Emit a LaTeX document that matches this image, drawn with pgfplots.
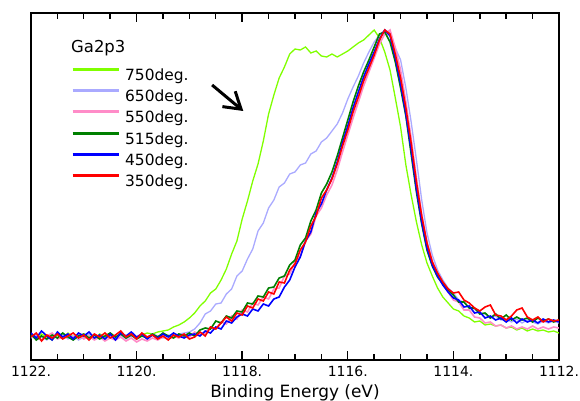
\documentclass[border=0pt]{standalone}
\usepackage{fontspec}
\setmainfont{DejaVu Sans}
\usepackage{pgfplots}
\pgfplotsset{compat=1.18}
\usepackage{pgfplotstable}
\usetikzlibrary{arrows.meta}

\definecolor{c750}{RGB}{128,255,0}
\definecolor{c650}{RGB}{170,170,255}
\definecolor{c550}{RGB}{255,140,200}
\definecolor{c515}{RGB}{0,128,0}
\definecolor{c450}{RGB}{0,0,255}
\definecolor{c350}{RGB}{255,0,0}

% columns: a=750, b=650, c=550, d=515, e=450, f=350 (intensity, arb. units)
\pgfplotstableread{
x a b c d e f
1122.0 24 22 25 26 27 23
1121.9 21 25 22 20 22 27
1121.8 26 23 20 24 29 19
1121.7 23 20 24 21 24 25
1121.6 20 24 27 25 20 22
1121.5 25 22 21 22 28 26
1121.4 22 26 23 27 23 21
1121.3 27 21 26 23 26 24
1121.2 23 24 22 20 21 27
1121.1 25 20 25 24 27 22
1121.0 22 23 21 26 24 25
1120.9 24 26 24 22 28 20
1120.8 21 22 20 25 22 26
1120.7 26 25 23 21 25 23
1120.6 23 21 19 24 21 27
1120.5 25 24 22 27 26 22
1120.4 22 22 20 23 20 25
1120.3 27 25 23 26 27 29
1120.2 24 21 19 22 24 23
1120.1 26 24 22 25 28 26
1120.0 23 22 18 21 23 21
1119.9 25 25 21 24 26 27
1119.8 27 23 19 22 21 23
1119.7 26 26 22 26 25 25
1119.6 28 24 20 23 22 21
1119.5 29 22 23 27 26 24
1119.4 30 25 21 24 23 20
1119.3 33 24 24 22 27 25
1119.2 35 26 22 26 24 23
1119.1 38 27 25 24 22 26
1119.0 42 28 23 27 25 21
1118.9 47 31 28 24 26 23
1118.8 54 37 25 30 24 28
1118.7 59 46 27 32 29 24
1118.6 67 49 33 31 27 33
1118.5 71 56 31 39 33 31
1118.4 80 57 38 37 31 37
1118.3 91 66 36 44 39 43
1118.2 106 71 44 42 37 39
1118.1 119 84 41 49 43 47
1118.0 141 89 50 48 46 45
1117.9 159 101 48 57 44 54
1117.8 179 111 57 56 51 52
1117.7 196 129 55 64 49 61
1117.6 219 137 63 63 56 59
1117.5 246 152 61 72 54 68
1117.4 265 160 71 73 61 66
1117.3 282 173 72 82 63 78
1117.2 293 177 84 84 73 77
1117.1 306 186 86 95 80 90
1117.0 311 188 98 100 93 96
1116.9 310 195 104 115 103 110
1116.8 313 197 119 122 119 118
1116.7 307 206 126 139 128 134
1116.6 309 209 144 150 147 144
1116.5 304 218 152 167 156 162
1116.4 303 222 165 176 170 170
1116.3 306 229 175 188 182 181
1116.2 303 236 190 204 198 196
1116.1 306 247 208 222 217 214
1116.0 309 261 225 240 234 230
1115.9 313 273 242 258 252 248
1115.8 317 284 258 274 268 263
1115.7 320 297 274 288 283 279
1115.6 325 308 288 300 296 292
1115.5 330 318 302 313 308 305
1115.4 322 325 316 326 321 320
1115.3 308 330 326 328 330 330
1115.2 290 327 330 318 324 326
1115.1 262 312 312 298 302 306
1115.0 233 300 290 272 276 282
1114.9 195 272 258 244 246 252
1114.8 165 238 222 206 210 217
1114.7 138 200 182 168 171 178
1114.6 115 160 146 136 138 144
1114.5 97 127 118 110 112 117
1114.4 84 105 99 94 95 98
1114.3 72 90 86 83 84 87
1114.2 63 80 76 76 75 78
1114.1 57 72 68 70 68 71
1114.0 51 67 60 65 62 67
1113.9 49 60 58 58 60 68
1113.8 44 58 50 58 53 60
1113.7 42 52 50 52 54 57
1113.6 38 51 43 52 47 52
1113.5 39 47 42 46 48 49
1113.4 35 46 37 47 42 53
1113.3 36 42 38 42 44 55
1113.2 34 44 34 46 40 45
1113.1 35 40 35 41 42 44
1113.0 32 41 32 45 38 40
1112.9 33 38 34 40 42 44
1112.8 30 41 31 43 37 50
1112.7 32 37 33 40 41 52
1112.6 29 40 31 42 38 43
1112.5 31 38 34 38 40 40
1112.4 29 36 31 42 37 43
1112.3 30 39 33 39 41 38
1112.2 28 37 31 41 38 41
1112.1 29 39 33 38 40 39
1112.0 27 37 32 40 38 40
}\data

\begin{document}
\begin{tikzpicture}
\begin{axis}[
  at={(31bp,41bp)}, anchor=south west,
  scale only axis, width=528bp, height=347bp,
  xmin=1112, xmax=1122, x dir=reverse,
  ymin=0, ymax=347,
  xtick={1112,1114,1116,1118,1120,1122},
  xticklabels={1112.,1114.,1116.,1118.,1120.,1122.},
  ytick=\empty,
  major tick length=0pt,
  axis line style={line width=2.5bp},
  xticklabel style={font=\fontsize{14}{14}\selectfont, inner sep=0pt, anchor=north, yshift=-6bp},
  xlabel={Binding Energy (eV)},
  xlabel style={font=\fontsize{17}{17}\selectfont, at={(axis description cs:0.5,0)}, anchor=base, inner sep=0pt, yshift=-37bp},
  legend style={at={(axis description cs:0.070,0.847)}, anchor=north west, draw=none, fill=none,
    font=\fontsize{15.5}{15.5}\selectfont, row sep=8.6bp, column sep=5bp,
    nodes={inner sep=0pt, text height=11bp, text depth=0bp}},
  legend cell align=left,
  legend image code/.code={\draw[#1, line width=3bp] (0bp,5.5bp) -- (46bp,5.5bp);},
]
\addplot[c750, line width=1.3bp, no markers] table[x=x, y=a] {\data};
\addplot[c650, line width=1.3bp, no markers] table[x=x, y=b] {\data};
\addplot[c550, line width=1.6bp, no markers] table[x=x, y=c] {\data};
\addplot[c515, line width=1.6bp, no markers] table[x=x, y=d] {\data};
\addplot[c450, line width=1.6bp, no markers] table[x=x, y=e] {\data};
\addplot[c350, line width=1.6bp, no markers] table[x=x, y=f] {\data};
\legend{750deg.,650deg.,550deg.,515deg.,450deg.,350deg.}
% tick marks on bottom and top edges (major every 2 eV, minor every 0.5 eV),
% given as fractions of the axis width
\pgfplotsinvokeforeach{0,0.2,0.4,0.6,0.8,1}{
  \draw[black, line width=1.4bp] (axis description cs:#1,0) -- (axis description cs:#1,0.026);
  \draw[black, line width=1.4bp] (axis description cs:#1,1) -- (axis description cs:#1,0.974);
}
\pgfplotsinvokeforeach{0.05,0.1,0.15,0.25,0.3,0.35,0.45,0.5,0.55,0.65,0.7,0.75,0.85,0.9,0.95}{
  \draw[black, line width=1.4bp] (axis description cs:#1,0) -- (axis description cs:#1,0.017);
  \draw[black, line width=1.4bp] (axis description cs:#1,1) -- (axis description cs:#1,0.983);
}
\draw[line width=3bp, -{Straight Barb[length=16bp,width=20bp,line width=3bp]}] (axis cs:1118.57,275) -- (axis cs:1117.98,249);
\node[anchor=base west, inner sep=0pt, font=\fontsize{16.5}{16.5}\selectfont] at (axis description cs:0.0758,0.885) {Ga2p3};
\end{axis}
\pgfresetboundingbox
\path (0,0) rectangle (580bp,401bp);
\end{tikzpicture}
\end{document}
